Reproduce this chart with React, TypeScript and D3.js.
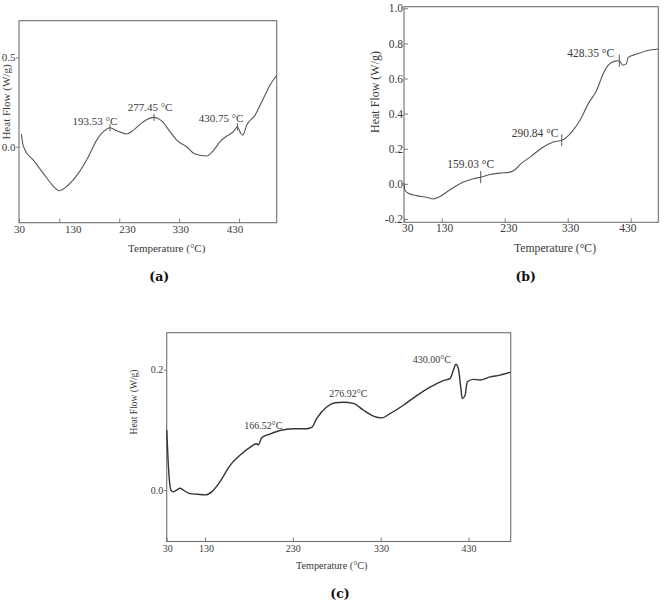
import { useEffect, useRef } from 'react'
import * as d3 from 'd3'

// Shared x tick values (°C)
const xTicks = [30, 130, 230, 330, 430]

// Panel (a) - temperature (°C) and heat flow (W/g)
const tempA = [35.8, 39.1, 44.9, 65.6, 90.4, 111.1, 130.1, 145.1, 161.8, 178.5, 192.4, 203.5, 214.6, 225.8, 242.5, 253.6, 270.3, 288.1, 300.9, 314.8, 325.9, 342.6, 356.5, 376, 387.1, 398.3, 409.4, 420.5, 427.2, 432.8, 436.1, 442.8, 456.7, 470.6, 481.7, 492.8]
const flowA = [0.071, 0.019, -0.018, -0.075, -0.149, -0.21, -0.246, -0.214, -0.149, -0.056, 0.037, 0.084, 0.106, 0.09, 0.071, 0.093, 0.14, 0.164, 0.145, 0.084, 0.037, 0.0, -0.041, -0.052, -0.022, 0.028, 0.06, 0.084, 0.112, 0.075, 0.065, 0.121, 0.177, 0.27, 0.345, 0.4]
const peakTempA = [214.6, 288.1, 427.2]
const peakLabelA = ['193.53 °C', '277.45 °C', '430.75 °C']
const yTicksA = [0, 0.5]

// Panel (b)
const tempB = [30, 32.7, 41.4, 63.7, 90.2, 107.7, 125.5, 143.2, 164.3, 180.2, 191.9, 206.7, 222.5, 238.4, 246.3, 254.3, 270.2, 291.3, 307.1, 320.5, 336.3, 349.5, 362.7, 376, 386.5, 394.4, 405.1, 411.9, 417.3, 422.5, 426.2, 439.5, 455.4, 473.8]
const flowB = [0.004, -0.038, -0.053, -0.067, -0.076, -0.086, -0.072, -0.034, 0.01, 0.029, 0.038, 0.053, 0.061, 0.067, 0.08, 0.11, 0.152, 0.21, 0.238, 0.248, 0.295, 0.362, 0.457, 0.533, 0.629, 0.676, 0.699, 0.701, 0.676, 0.682, 0.72, 0.739, 0.758, 0.768]
const peakTempB = [191.9, 320.5, 411.9]
const peakLabelB = ['159.03 °C', '290.84 °C', '428.35 °C']
const yTicksB = [-0.2, 0, 0.2, 0.4, 0.6, 0.8, 1.0]

// Panel (c)
const tempC = [30, 34, 38, 41, 47, 56, 65, 78, 91, 110, 131, 137.6, 147.1, 158.5, 169.8, 181.2, 188.9, 190.7, 194.5, 204, 215.4, 230.5, 245.8, 251.5, 257.2, 268.5, 278, 287.4, 298.8, 310.2, 321.6, 331.2, 340.6, 355.8, 371, 386.2, 401.3, 408.9, 412.7, 415.7, 418.4, 421.1, 422.9, 426, 428.6, 435.5, 443.1, 454.5, 465.9, 478]
const flowC = [0.1, 0.045, 0.01, 0.0, -0.003, 0.0, 0.003, -0.002, -0.006, -0.007, -0.008, -0.003, 0.014, 0.041, 0.058, 0.071, 0.077, 0.075, 0.087, 0.093, 0.099, 0.102, 0.102, 0.104, 0.119, 0.138, 0.145, 0.146, 0.144, 0.133, 0.123, 0.12, 0.127, 0.141, 0.157, 0.171, 0.182, 0.185, 0.199, 0.209, 0.202, 0.171, 0.152, 0.157, 0.18, 0.184, 0.183, 0.188, 0.191, 0.196]
const peakTempC = [166.52, 276.92, 430.0]
const peakLabelC = ['166.52°C', '276.92°C', '430.00°C']
const yTicksC = [0, 0.2]

const FONT = '"Liberation Serif", "Times New Roman", serif'

const panels = [
  {
    temps: tempA, flows: flowA, peakTemps: peakTempA, peakLabels: peakLabelA, yTicks: yTicksA,
    left: 19, top: 20.7, right: 276.7, bottom: 222.7, x130: 59.3, xMax: 492.8,
    yDomain: [-0.425, 0.705], yTickOut: true, yLabelPad: 0.5,
    fs: 11, xPad: 2.5, xNudge: [0, 13.4, 7.7, 1, -4.7],
    labelOff: [[-15, -2.7], [-4, -6.4], [-16.3, -4.7]], markerLen: 7,
    yTitle: [9.5, 102, 11], xTitle: [166.7, 252, 11], caption: ['(a)', 159.3, 281],
    color: '#575757', width: 1.1,
  },
  {
    temps: tempB, flows: flowB, peakTemps: peakTempB, peakLabels: peakLabelB, yTicks: yTicksB,
    left: 404, top: 6.7, right: 658.3, bottom: 222.3, x130: 441.7, xMax: 473.8,
    yDomain: [-0.219, 1.009], yTickOut: false, yLabelPad: 1,
    fs: 11.5, xPad: 1.5, xNudge: [3.3, 2.3, 3.6, 2.3, -3.4],
    labelOff: [[-10, -9], [-26.7, -3.3], [-28.6, -3.8]], markerLen: 12,
    yTitle: [379, 92, 12], xTitle: [555, 252, 11.7], caption: ['(b)', 525.7, 281],
    color: '#575757', width: 1.1,
  },
  {
    temps: tempC, flows: flowC, peakTemps: peakTempC, peakLabels: peakLabelC, yTicks: yTicksC,
    left: 166.7, top: 332.7, right: 510.7, bottom: 541.5, x130: 205, xMax: 478,
    yDomain: [-0.0855, 0.2615], yTickOut: true, yLabelPad: 0.5,
    fs: 10, xPad: 3.4, xNudge: [0.6, 1, 0, 0.3, 0],
    labelOff: [[26.2, -29.5], [14.2, -6.5], [-36.8, -17.8]], markerLen: 0,
    yTitle: [137, 402, 9.5], xTitle: [331.7, 568.5, 10.2], caption: ['(c)', 340, 598],
    color: '#333', width: 1.4,
  },
]

// Linear interpolation of the measured curve at a temperature
function flowAt(temps, flows, t) {
  const i = Math.min(Math.max(d3.bisectLeft(temps, t), 1), temps.length - 1)
  const f = (t - temps[i - 1]) / (temps[i] - temps[i - 1])
  return flows[i - 1] + f * (flows[i] - flows[i - 1])
}

function drawPanel(svg, p) {
  // x scale is piecewise: the 30 label sits on the left frame edge
  const x = d3.scaleLinear().domain([30, 130, p.xMax]).range([p.left, p.x130, p.right])
  const y = d3.scaleLinear().domain(p.yDomain).range([p.bottom, p.top])
  const g = svg.append('g')
  const frame = '#707070'
  const ink = '#3a3a3a'

  // x axis labels + inward ticks
  const xAxis = d3
    .axisBottom(x)
    .tickValues(xTicks)
    .tickSizeInner(-4)
    .tickSizeOuter(0)
    .tickPadding(p.xPad)
    .tickFormat(d3.format('d'))
  const xg = g.append('g').attr('transform', `translate(0,${p.bottom})`).call(xAxis)
  xg.select('.domain').remove()
  xg.selectAll('line').attr('stroke', frame).attr('stroke-width', 0.9)
  xg.selectAll('text')
    .attr('dx', (d, i) => p.xNudge[i])
    .attr('fill', ink)
    .style('font-family', FONT)
    .style('font-size', `${p.fs}px`)

  // y axis
  const yAxis = d3
    .axisLeft(y)
    .tickValues(p.yTicks)
    .tickSizeInner(p.yTickOut ? 3 : -4)
    .tickSizeOuter(0)
    .tickPadding(p.yLabelPad)
    .tickFormat((d) => d.toFixed(1))
  const yg = g.append('g').attr('transform', `translate(${p.left},0)`).call(yAxis)
  yg.select('.domain').remove()
  yg.selectAll('line').attr('stroke', frame).attr('stroke-width', 0.9)
  yg.selectAll('text')
    .attr('fill', ink)
    .style('font-family', FONT)
    .style('font-size', `${p.fs}px`)

  // plot frame
  g.append('rect')
    .attr('x', p.left)
    .attr('y', p.top)
    .attr('width', p.right - p.left)
    .attr('height', p.bottom - p.top)
    .attr('fill', 'none')
    .attr('stroke', frame)
    .attr('stroke-width', 1.1)

  // DSC curve
  const line = d3
    .line()
    .x((d) => x(d[0]))
    .y((d) => y(d[1]))
    .curve(d3.curveMonotoneX)
  g.append('path')
    .attr('d', line(p.temps.map((t, i) => [t, p.flows[i]])))
    .attr('fill', 'none')
    .attr('stroke', p.color)
    .attr('stroke-width', p.width)
    .attr('stroke-linejoin', 'round')

  // peak markers and labels
  p.peakTemps.forEach((t, i) => {
    const px = x(t)
    const py = y(flowAt(p.temps, p.flows, t))
    if (p.markerLen > 0) {
      g.append('line')
        .attr('x1', px)
        .attr('x2', px)
        .attr('y1', py - p.markerLen / 2)
        .attr('y2', py + p.markerLen / 2)
        .attr('stroke', p.color)
        .attr('stroke-width', 1)
    }
    g.append('text')
      .attr('x', px + p.labelOff[i][0])
      .attr('y', py + p.labelOff[i][1])
      .attr('text-anchor', 'middle')
      .attr('fill', ink)
      .style('font-family', FONT)
      .style('font-size', `${p.fs}px`)
      .text(p.peakLabels[i])
  })

  // axis titles
  g.append('text')
    .attr('transform', `translate(${p.yTitle[0]},${p.yTitle[1]}) rotate(-90)`)
    .attr('text-anchor', 'middle')
    .attr('fill', ink)
    .style('font-family', FONT)
    .style('font-size', `${p.yTitle[2]}px`)
    .text('Heat Flow (W/g)')
  g.append('text')
    .attr('x', p.xTitle[0])
    .attr('y', p.xTitle[1])
    .attr('text-anchor', 'middle')
    .attr('fill', ink)
    .style('font-family', FONT)
    .style('font-size', `${p.xTitle[2]}px`)
    .text('Temperature (°C)')

  // sub-figure caption
  g.append('text')
    .attr('x', p.caption[1])
    .attr('y', p.caption[2])
    .attr('text-anchor', 'middle')
    .attr('fill', '#111')
    .style('font-family', '"DejaVu Serif", serif')
    .style('font-weight', 'bold')
    .style('font-size', '12.5px')
    .text(p.caption[0])
}

export default function App() {
  const svgRef = useRef(null)

  useEffect(() => {
    const svg = d3.select(svgRef.current)
    svg.selectAll('*').remove()
    svg.append('rect').attr('width', 667).attr('height', 601).attr('fill', '#fff')
    panels.forEach((p) => drawPanel(svg, p))
  }, [])

  return (
    <svg
      ref={svgRef}
      width={667}
      height={601}
      style={{ position: 'absolute', left: 0, top: 0, display: 'block' }}
    />
  )
}
